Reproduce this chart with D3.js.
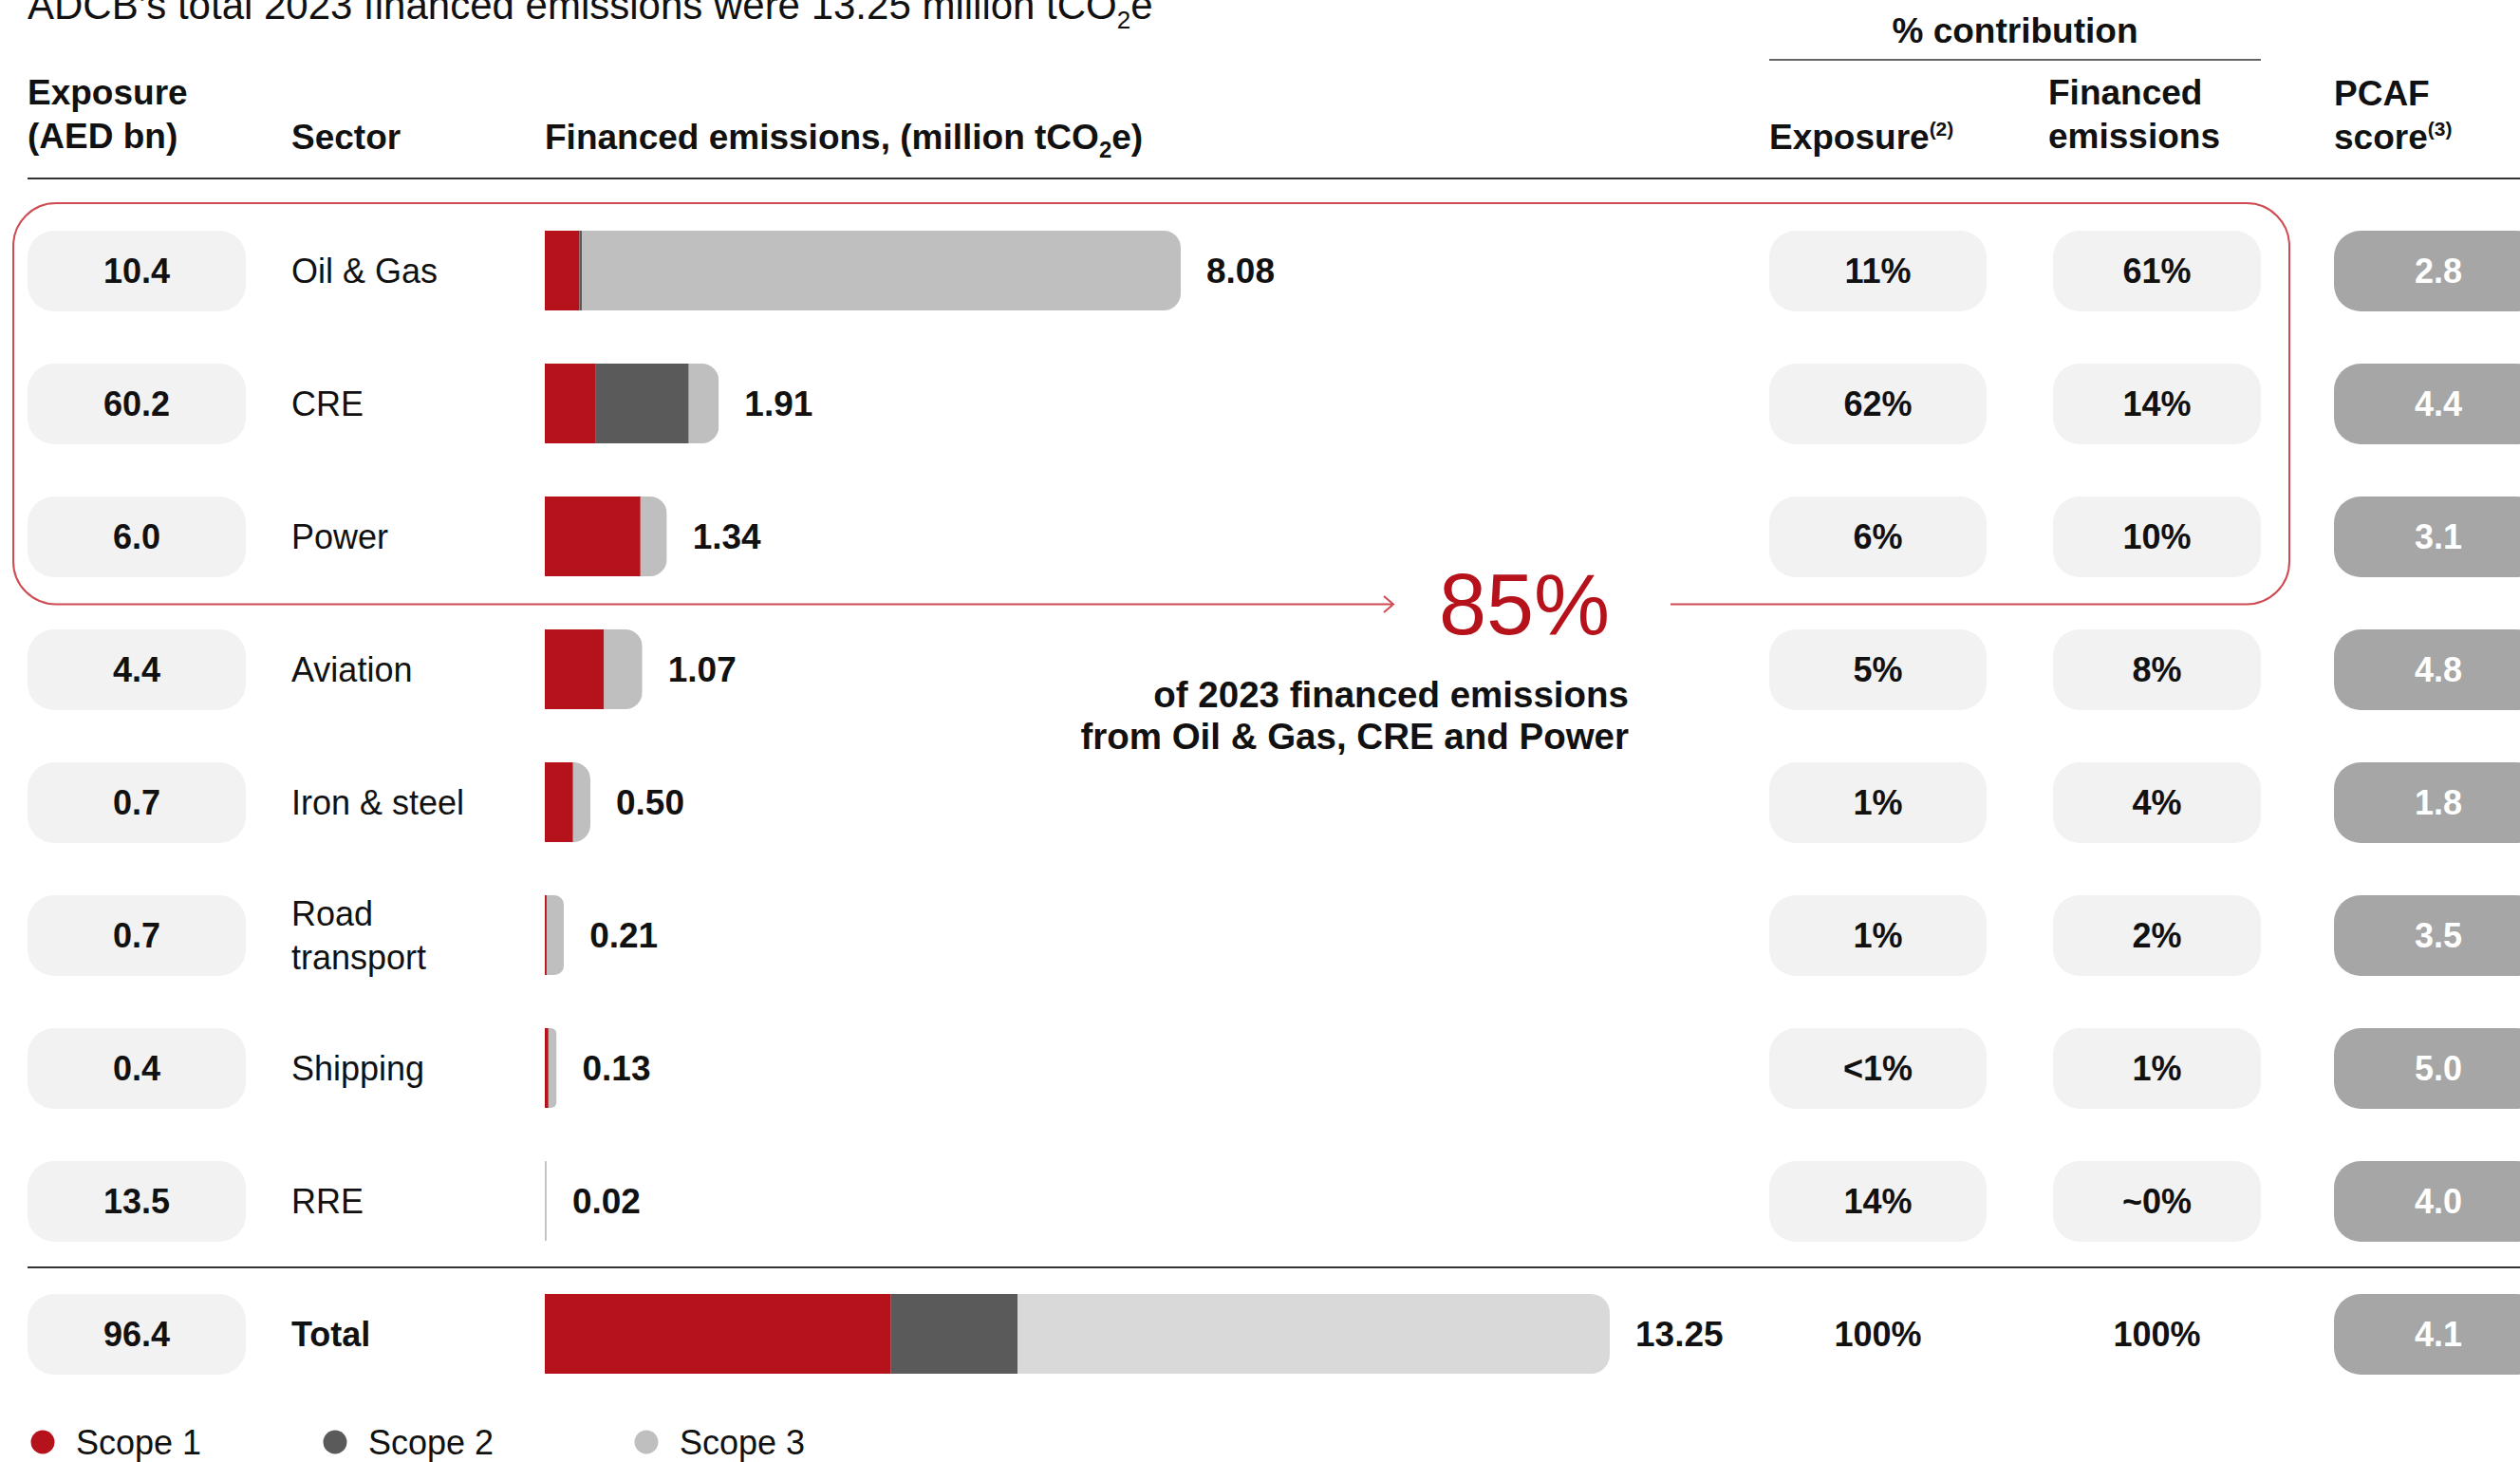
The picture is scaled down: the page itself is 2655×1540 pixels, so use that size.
<!DOCTYPE html>
<html lang="en">
  <head>
    <meta charset="UTF-8" />
    <title>ADCB financed emissions 2023</title>
    <style>
      body {
        margin: 0;
        background: #fff;
      }
      svg {
        display: block;
        font-family: 'Liberation Sans', Arial, Helvetica, sans-serif;
      }
    </style>
  </head>
  <body>
    <svg id="chart"></svg>
    <script src="https://cdn.jsdelivr.net/npm/d3@7/dist/d3.min.js"></script>
    <script>
      // values
      const sectors = ['Oil & Gas', 'CRE', 'Power', 'Aviation', 'Iron & steel', 'Road transport', 'Shipping', 'RRE'];
      const exposureAED = [10.4, 60.2, 6.0, 4.4, 0.7, 0.7, 0.4, 13.5];
      const scope1 = [0.38, 0.56, 1.05, 0.65, 0.31, 0.02, 0.04, 0];
      const scope2 = [0.03, 1.02, 0, 0, 0, 0, 0, 0];
      const scope3 = [7.67, 0.33, 0.29, 0.42, 0.19, 0.19, 0.09, 0.02];
      const financed = [8.08, 1.91, 1.34, 1.07, 0.5, 0.21, 0.13, 0.02];
      const exposureShare = ['11%', '62%', '6%', '5%', '1%', '1%', '<1%', '14%'];
      const emissionsShare = ['61%', '14%', '10%', '8%', '4%', '2%', '1%', '~0%'];
      const pcafScore = [2.8, 4.4, 3.1, 4.8, 1.8, 3.5, 5.0, 4.0];

      const totalExposure = 96.4;
      const totalScopes = [4.2, 1.7, 7.35];
      const totalFinanced = 13.25;
      const totalShares = ['100%', '100%'];
      const totalPcaf = 4.1;

      const scopeNames = ['Scope 1', 'Scope 2', 'Scope 3'];
      const scopeColors = ['#b5121b', '#5a5a5a', '#bfbfbf'];
      const highlightShare = '85%';

      const width = 2655;
      const height = 1540;
      const barH = 84;
      const col = {
        exp: 29,
        expW: 230,
        sector: 307,
        bar: 574,
        shareExp: 1864,
        shareExpW: 229,
        shareEm: 2163,
        shareEmW: 219,
        pcaf: 2459,
        pcafW: 220,
      };

      let svg = d3.select('#chart').attr('width', width).attr('height', height);

      let yScale = d3
        .scalePoint()
        .domain([...sectors, 'Total'])
        .range([285, 1405]);

      // compressed above 2 and 8, like the original artwork
      let xScale = d3
        .scaleLinear()
        .domain([0, 2, 8, 13.25])
        .range([574, 766, 1237, 1696]);

      function pill(g, x, yc, w, fill, label, textFill) {
        g.append('rect')
          .attr('x', x)
          .attr('y', yc - barH / 2)
          .attr('width', w)
          .attr('height', barH + 1)
          .attr('rx', 28)
          .attr('fill', fill);
        g.append('text')
          .attr('x', x + w / 2)
          .attr('y', yc + 13)
          .attr('text-anchor', 'middle')
          .attr('font-size', 36)
          .attr('font-weight', 'bold')
          .attr('fill', textFill)
          .text(label);
      }

      function drawBar(g, segs, yc, colors, r, id) {
        let x0 = segs[0][0];
        let x1 = segs[segs.length - 1][1];
        let rr = Math.min(r, (x1 - x0) / 2);
        g.append('clipPath')
          .attr('id', id)
          .append('rect')
          .attr('x', x0 - rr)
          .attr('y', yc - barH / 2)
          .attr('width', x1 - x0 + rr)
          .attr('height', barH)
          .attr('rx', rr);
        g.append('g')
          .attr('clip-path', `url(#${id})`)
          .selectAll('rect')
          .data(segs.filter((s) => s[1] > s[0]))
          .enter()
          .append('rect')
          .attr('x', (s) => s[0])
          .attr('y', yc - barH / 2)
          .attr('width', (s) => s[1] - s[0])
          .attr('height', barH)
          .attr('fill', (s) => colors[s.k]);
      }

      function drawTitleAndHeader() {
        let t = svg
          .append('text')
          .attr('x', 29)
          .attr('y', 20)
          .attr('font-size', 42)
          .attr('fill', '#111');
        t.append('tspan').text('ADCB’s total 2023 financed emissions were 13.25 million tCO');
        t.append('tspan').attr('font-size', 26).attr('dy', 10).text('2');
        t.append('tspan').attr('dy', -10).text('e');

        let h = svg
          .append('g')
          .attr('font-size', 37)
          .attr('font-weight', 'bold')
          .attr('fill', '#111');

        h.append('text').attr('x', col.exp).attr('y', 110).text('Exposure');
        h.append('text').attr('x', col.exp).attr('y', 156).text('(AED bn)');
        h.append('text').attr('x', col.sector).attr('y', 157).text('Sector');

        let fe = h.append('text').attr('x', col.bar).attr('y', 157);
        fe.append('tspan').text('Financed emissions, (million tCO');
        fe.append('tspan').attr('font-size', 24).attr('dy', 9).text('2');
        fe.append('tspan').attr('dy', -9).text('e)');

        h.append('text')
          .attr('x', (col.shareExp + col.shareEm + col.shareEmW) / 2)
          .attr('y', 45)
          .attr('text-anchor', 'middle')
          .text('% contribution');
        svg
          .append('line')
          .attr('x1', col.shareExp)
          .attr('x2', col.shareEm + col.shareEmW)
          .attr('y1', 63)
          .attr('y2', 63)
          .attr('stroke', '#333')
          .attr('stroke-width', 1.5);

        let ex = h.append('text').attr('x', col.shareExp).attr('y', 157);
        ex.append('tspan').text('Exposure');
        ex.append('tspan').attr('font-size', 21).attr('dy', -14).text('(2)');

        h.append('text').attr('x', col.shareEm - 5).attr('y', 110).text('Financed');
        h.append('text').attr('x', col.shareEm - 5).attr('y', 156).text('emissions');

        h.append('text').attr('x', col.pcaf).attr('y', 111).text('PCAF');
        let sc = h.append('text').attr('x', col.pcaf).attr('y', 157);
        sc.append('tspan').text('score');
        sc.append('tspan').attr('font-size', 21).attr('dy', -14).text('(3)');

        [188, 1335].forEach((y) => {
          svg
            .append('line')
            .attr('x1', col.exp)
            .attr('x2', width)
            .attr('y1', y)
            .attr('y2', y)
            .attr('stroke', '#333')
            .attr('stroke-width', 2);
        });
      }

      function drawRows() {
        let rows = sectors.map((s, i) => ({ s1: scope1[i], s2: scope2[i], s3: scope3[i] }));
        let stacked = d3.stack().keys(['s1', 's2', 's3'])(rows);
        let g = svg.append('g');

        sectors.forEach((name, i) => {
          let yc = yScale(name);
          pill(g, col.exp, yc, col.expW, '#f2f2f2', exposureAED[i].toFixed(1), '#111');

          let lines = name.length > 13 ? name.split(' ') : [name];
          lines.forEach((l, j) => {
            g.append('text')
              .attr('x', col.sector)
              .attr('y', yc + 13 + (j - (lines.length - 1) / 2) * 46)
              .attr('font-size', 36)
              .attr('fill', '#111')
              .text(l);
          });

          let segs = stacked.map((s, k) => {
            let seg = [xScale(s[i][0]), xScale(s[i][1])];
            seg.k = k;
            return seg;
          });
          drawBar(g, segs, yc, scopeColors, 18, 'bar-' + i);

          g.append('text')
            .attr('x', xScale(financed[i]) + 27)
            .attr('y', yc + 13)
            .attr('font-size', 37)
            .attr('font-weight', 'bold')
            .attr('fill', '#111')
            .text(financed[i].toFixed(2));

          pill(g, col.shareExp, yc, col.shareExpW, '#f2f2f2', exposureShare[i], '#111');
          pill(g, col.shareEm, yc, col.shareEmW, '#f2f2f2', emissionsShare[i], '#111');
          pill(g, col.pcaf, yc, col.pcafW, '#a6a6a6', pcafScore[i].toFixed(1), '#fff');
        });
      }

      function drawTotal() {
        let yc = yScale('Total');
        let g = svg.append('g');
        pill(g, col.exp, yc, col.expW, '#f2f2f2', totalExposure.toFixed(1), '#111');
        g.append('text')
          .attr('x', col.sector)
          .attr('y', yc + 13)
          .attr('font-size', 36)
          .attr('font-weight', 'bold')
          .attr('fill', '#111')
          .text('Total');

        let cum = d3.cumsum(totalScopes);
        let segs = totalScopes.map((v, k) => {
          let seg = [xScale(cum[k] - v), xScale(cum[k])];
          seg.k = k;
          return seg;
        });
        drawBar(g, segs, yc, [scopeColors[0], scopeColors[1], '#d9d9d9'], 20, 'bar-total');

        g.append('text')
          .attr('x', xScale(totalFinanced) + 27)
          .attr('y', yc + 13)
          .attr('font-size', 37)
          .attr('font-weight', 'bold')
          .attr('fill', '#111')
          .text(totalFinanced.toFixed(2));

        [col.shareExp + col.shareExpW / 2, col.shareEm + col.shareEmW / 2].forEach((cx, k) => {
          g.append('text')
            .attr('x', cx)
            .attr('y', yc + 13)
            .attr('text-anchor', 'middle')
            .attr('font-size', 36)
            .attr('font-weight', 'bold')
            .attr('fill', '#111')
            .text(totalShares[k]);
        });
        pill(g, col.pcaf, yc, col.pcafW, '#a6a6a6', totalPcaf.toFixed(1), '#fff');
      }

      function drawHighlight() {
        let x0 = 14;
        let x1 = 2412;
        let y0 = yScale(sectors[0]) - 71;
        let y1 = yScale(sectors[2]) + 71.5;
        let r = 45;
        let tip = 1468;
        let resume = 1760;
        let stroke = '#cf4b52';

        let d = `M${tip},${y1} H${x0 + r} A${r},${r} 0 0 1 ${x0},${y1 - r} V${y0 + r}
          A${r},${r} 0 0 1 ${x0 + r},${y0} H${x1 - r} A${r},${r} 0 0 1 ${x1},${y0 + r}
          V${y1 - r} A${r},${r} 0 0 1 ${x1 - r},${y1} H${resume}`;
        svg
          .append('path')
          .attr('d', d)
          .attr('fill', 'none')
          .attr('stroke', stroke)
          .attr('stroke-width', 2);
        svg
          .append('path')
          .attr('d', `M${tip - 10},${y1 - 8.5} L${tip},${y1} L${tip - 10},${y1 + 8.5}`)
          .attr('fill', 'none')
          .attr('stroke', stroke)
          .attr('stroke-width', 2);

        svg
          .append('text')
          .attr('x', 1606)
          .attr('y', 668)
          .attr('text-anchor', 'middle')
          .attr('font-size', 90)
          .attr('fill', '#b5121b')
          .text(highlightShare);

        ['of 2023 financed emissions', 'from Oil & Gas, CRE and Power'].forEach((l, j) => {
          svg
            .append('text')
            .attr('x', 1716)
            .attr('y', 745 + j * 44)
            .attr('text-anchor', 'end')
            .attr('font-size', 38.5)
            .attr('font-weight', 'bold')
            .attr('fill', '#111')
            .text(l);
        });
      }

      function drawLegend() {
        let items = [45, 353, 681];
        let g = svg.append('g');
        scopeNames.forEach((name, i) => {
          g.append('circle')
            .attr('cx', items[i])
            .attr('cy', 1519)
            .attr('r', 12.5)
            .attr('fill', scopeColors[i]);
          g.append('text')
            .attr('x', items[i] + 35)
            .attr('y', 1532)
            .attr('font-size', 36)
            .attr('fill', '#111')
            .text(name);
        });
      }

      drawTitleAndHeader();
      drawHighlight();
      drawRows();
      drawTotal();
      drawLegend();
    </script>
  </body>
</html>
